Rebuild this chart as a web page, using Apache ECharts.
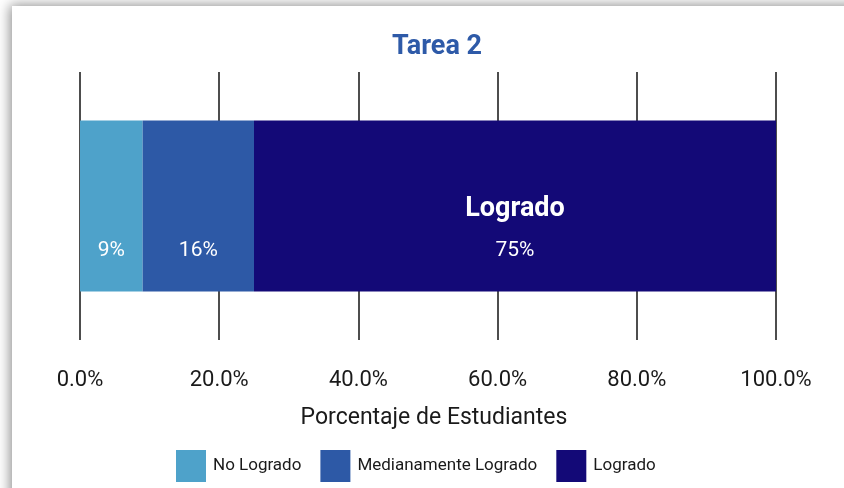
<!DOCTYPE html>
<html>
<head>
<meta charset="utf-8">
<script src="https://cdn.jsdelivr.net/npm/echarts@6/dist/echarts.min.js"></script>
<style>
html,body{margin:0;padding:0;background:#fff;}
#chart{width:844px;height:488px;}
</style>
</head>
<body>
<div id="chart"></div>
<script>
const categories = ['Tarea 2'];
const seriesNames = ['No Logrado', 'Medianamente Logrado', 'Logrado'];
const noLogrado = [9];
const medianamenteLogrado = [16];
const logrado = [75];
const seriesValues = [noLogrado, medianamenteLogrado, logrado];
const colors = ['#4EA2CA', '#2D59A6', '#130977'];
const chartTitle = 'Tarea 2';
const axisName = 'Porcentaje de Estudiantes';

const FONT = 'Roboto';
const chart = echarts.init(document.getElementById('chart'), null, {renderer: 'canvas'});

const series = seriesNames.map((name, i) => {
  const isLast = i === seriesNames.length - 1;
  return {
    name: name,
    type: 'bar',
    stack: 'total',
    barWidth: 171,
    data: seriesValues[i],
    itemStyle: {color: colors[i]},
    label: {
      show: true,
      position: isLast ? ['50%', '64%'] : ['50%', '76%'],
      align: 'center',
      verticalAlign: 'middle',
      fontFamily: FONT,
      color: '#fff',
      fontSize: 21,
      formatter: isLast
        ? (p) => '{n|' + p.seriesName + '}\n{v|' + p.value + '%}'
        : (p) => p.value + '%',
      rich: {
        n: {fontFamily: FONT, fontWeight: 'bold', fontSize: 27, color: '#fff', lineHeight: 41, align: 'center'},
        v: {fontFamily: FONT, fontSize: 21, color: '#fff', lineHeight: 41, align: 'center'}
      }
    }
  };
});

chart.setOption({
  backgroundColor: '#fff',
  animation: false,
  color: colors,
  graphic: [{
    type: 'rect',
    z: -100,
    silent: true,
    shape: {x: 12, y: 6, width: 900, height: 600},
    style: {fill: '#fff', shadowBlur: 12, shadowColor: 'rgba(0,0,0,0.45)', shadowOffsetX: -2, shadowOffsetY: -1}
  }],
  title: {
    text: chartTitle,
    left: 387,
    top: 29,
    textStyle: {fontFamily: FONT, fontWeight: 'bold', fontSize: 27, color: '#2E5AA8'}
  },
  legend: {
    data: seriesNames,
    left: 176,
    top: 450,
    padding: 0,
    icon: 'rect',
    itemWidth: 30,
    itemHeight: 32,
    itemGap: 19,
    textStyle: {fontFamily: FONT, fontSize: 17, color: '#1a1a1a', padding: [0, 0, 0, 2]}
  },
  grid: {left: 80, right: 68, top: 72, bottom: 148, containLabel: false},
  xAxis: {
    type: 'value',
    min: 0,
    max: 100,
    interval: 20,
    axisLine: {show: false},
    axisTick: {show: false},
    splitLine: {show: true, lineStyle: {color: '#4d4d4d', width: 2}},
    axisLabel: {
      margin: 29,
      fontFamily: FONT,
      fontSize: 22,
      color: '#1a1a1a',
      formatter: (v) => v.toFixed(1) + '%'
    },
    name: axisName,
    nameLocation: 'middle',
    nameGap: 67,
    nameTextStyle: {fontFamily: FONT, fontSize: 23, color: '#1a1a1a', padding: [0, 0, 0, 12]}
  },
  yAxis: {
    type: 'category',
    data: categories,
    show: false
  },
  series: series
});
</script>
</body>
</html>
